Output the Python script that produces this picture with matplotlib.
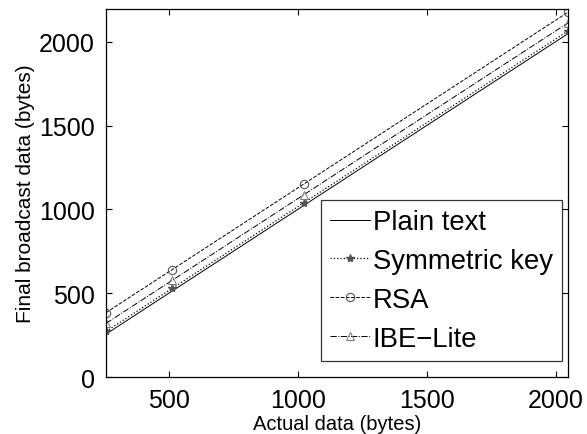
import matplotlib
matplotlib.use("Agg")
import matplotlib.pyplot as plt

# Message sizes (bytes) and the resulting broadcast size for each scheme
actual_bytes = [256, 512, 1024, 2048]
plain_text = [256, 512, 1024, 2048]
symmetric_key = [272, 528, 1040, 2064]
rsa = [384, 640, 1152, 2176]
ibe_lite = [320, 576, 1088, 2112]

series_labels = ["Plain text", "Symmetric key", "RSA", "IBE\u2212Lite"]
x_ticks = [500, 1000, 1500, 2000]
y_ticks = [0, 500, 1000, 1500, 2000]

plt.rcParams["font.family"] = ["Liberation Sans", "DejaVu Sans"]

fig = plt.figure(figsize=(5.87, 4.35), dpi=100)
ax = fig.add_axes([0.1806, 0.131, 0.787, 0.846])

mk_color = "#555555"
ax.plot(actual_bytes, plain_text, "-", color="black", lw=0.7, label=series_labels[0])
ax.plot(actual_bytes, symmetric_key, ":", color="black", lw=0.9, marker="*",
        ms=6, mfc=mk_color, mec=mk_color, label=series_labels[1])
ax.plot(actual_bytes, rsa, "--", color="black", lw=0.7, marker="o", ms=6,
        mfc="none", mec=mk_color, mew=0.8, label=series_labels[2])
ax.plot(actual_bytes, ibe_lite, "-.", color="black", lw=0.7, marker="^", ms=6,
        mfc="none", mec="#777777", mew=0.7, label=series_labels[3])

ax.set_xlim(256, 2048)
ax.set_ylim(0, 2195)
ax.set_xticks(x_ticks)
ax.set_yticks(y_ticks)
ax.tick_params(direction="in", length=4, width=0.8, top=True, right=True,
               labelsize=18, pad=8)
for s in ax.spines.values():
    s.set_linewidth(0.9)

ax.set_xlabel("Actual data (bytes)", fontsize=14.5, labelpad=1)
ax.set_ylabel("Final broadcast data (bytes)", fontsize=15, labelpad=3)

leg = ax.legend(loc="lower right", bbox_to_anchor=(0.987, 0.0435),
                fontsize=19.8, frameon=True, fancybox=False,
                edgecolor="black", handlelength=1.45, handletextpad=0.1,
                borderpad=0.33, labelspacing=0.47, borderaxespad=0.0)
leg.get_frame().set_linewidth(0.9)

fig.savefig("out.png", dpi=100)
